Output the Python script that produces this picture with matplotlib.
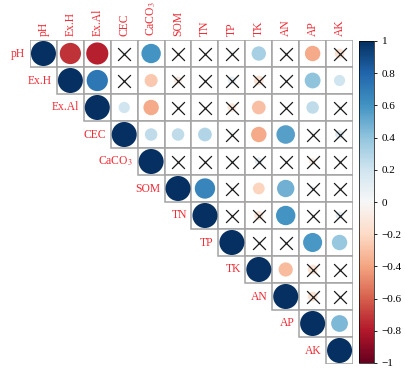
import numpy as np
import matplotlib
matplotlib.use("Agg")
import matplotlib.pyplot as plt
from matplotlib.patches import Rectangle
from matplotlib import colors as mcolors
from matplotlib.colorbar import ColorbarBase

plt.rcParams['font.family'] = ['Liberation Serif', 'DejaVu Serif']
plt.rcParams['mathtext.fontset'] = 'stix'

variables = ['pH', 'Ex.H', 'Ex.Al', 'CEC', r'CaCO$_3$', 'SOM', 'TN', 'TP', 'TK', 'AN', 'AP', 'AK']

# upper-triangle correlations, each row starting at the diagonal
r_pH    = [1, -0.72, -0.78, 0.04, 0.60, -0.03, 0.02, 0.05, 0.33, 0.03, -0.38, -0.15]
r_ExH   = [1, 0.72, 0.03, -0.27, -0.10, 0.02, 0.10, -0.15, 0.02, 0.40, 0.20]
r_ExAl  = [1, 0.20, -0.38, 0.03, 0.02, -0.12, -0.30, 0.02, 0.25, 0.04]
r_CEC   = [1, 0.25, 0.25, 0.30, 0.04, -0.38, 0.55, 0.03, 0.12]
r_CaCO3 = [1, 0.03, 0.02, 0.04, 0.10, 0.02, -0.08, 0.03]
r_SOM   = [1, 0.66, 0.03, -0.22, 0.48, 0.04, 0.02]
r_TN    = [1, 0.03, -0.13, 0.60, 0.03, 0.10]
r_TP    = [1, 0.03, 0.02, 0.58, 0.38]
r_TK    = [1, -0.32, -0.15, 0.03]
r_AN    = [1, -0.15, 0.02]
r_AP    = [1, 0.45]
r_AK    = [1]

# significance flags (0 = not significant, drawn with a cross)
s_pH    = [1, 1, 1, 0, 1, 0, 0, 0, 1, 0, 1, 0]
s_ExH   = [1, 1, 0, 1, 0, 0, 0, 0, 0, 1, 1]
s_ExAl  = [1, 1, 1, 0, 0, 0, 1, 0, 1, 0]
s_CEC   = [1, 1, 1, 1, 0, 1, 1, 0, 0]
s_CaCO3 = [1, 0, 0, 0, 0, 0, 0, 0]
s_SOM   = [1, 1, 0, 1, 1, 0, 0]
s_TN    = [1, 0, 0, 1, 0, 0]
s_TP    = [1, 0, 0, 1, 1]
s_TK    = [1, 1, 0, 0]
s_AN    = [1, 0, 0]
s_AP    = [1, 1]
s_AK    = [1]

cb_ticks = [-1, -0.8, -0.6, -0.4, -0.2, 0, 0.2, 0.4, 0.6, 0.8, 1]
cb_labels = ['\u22121', '\u22120.8', '\u22120.6', '\u22120.4', '\u22120.2', '0', '0.2', '0.4', '0.6', '0.8', '1']

rows_r = [r_pH, r_ExH, r_ExAl, r_CEC, r_CaCO3, r_SOM, r_TN, r_TP, r_TK, r_AN, r_AP, r_AK]
rows_s = [s_pH, s_ExH, s_ExAl, s_CEC, s_CaCO3, s_SOM, s_TN, s_TP, s_TK, s_AN, s_AP, s_AK]

n = len(variables)
W, H = 406, 374
fig = plt.figure(figsize=(W / 100, H / 100), dpi=100)

x0, x1, y0, y1 = 30, 353, 40, 364
ax = fig.add_axes([x0 / W, 1 - y1 / H, (x1 - x0) / W, (y1 - y0) / H])
ax.set_xlim(0, n)
ax.set_ylim(n, 0)
ax.axis('off')

cmap = plt.get_cmap('RdBu')
norm = mcolors.Normalize(-1, 1)
red = '#EE2C36'

cell_pt = (x1 - x0) / n * 72 / 100  # cell size in points

xs, ys, vals, xx, xy = [], [], [], [], []
for i, (rr, ss) in enumerate(zip(rows_r, rows_s)):
    for k, (v, s) in enumerate(zip(rr, ss)):
        j = i + k
        ax.add_patch(Rectangle((j, i), 1, 1, facecolor='white', edgecolor='#a3a3a3', lw=1.1, zorder=1))
        xs.append(j + 0.5)
        ys.append(i + 0.5)
        vals.append(v)
        if not s:
            xx.append(j + 0.5)
            xy.append(i + 0.5)

vals = np.array(vals)
sizes = (0.93 * np.sqrt(np.abs(vals)) * cell_pt) ** 2
ax.scatter(xs, ys, s=sizes, c=vals, cmap=cmap, norm=norm, edgecolors='none', zorder=2)
ax.scatter(xx, xy, s=85, marker='x', c='#1a1a1a', linewidths=0.9, zorder=3)

for i, name in enumerate(variables):
    ax.text(i - 0.17, i + 0.5, name, ha='right', va='center', color=red, fontsize=8.4)
    ax.text(i + 0.5, -0.15, name, ha='center', va='bottom', rotation=90, color=red, fontsize=8.4)

cax = fig.add_axes([359 / W, 1 - 363 / H, 15 / W, 322 / H])
cb = ColorbarBase(cax, cmap=cmap, norm=norm, ticks=cb_ticks)
cb.ax.set_yticklabels(cb_labels)
cb.ax.tick_params(labelsize=8, length=2.5, width=0.6, pad=3)
cb.outline.set_linewidth(0.5)

fig.savefig('out.png', dpi=100)
